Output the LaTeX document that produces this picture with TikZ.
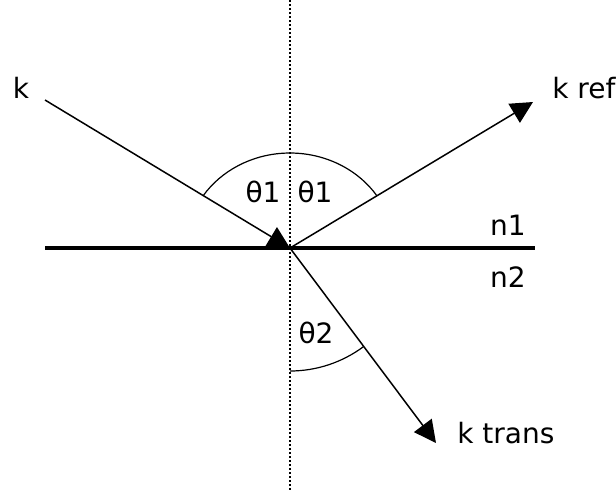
\documentclass[tikz,border=0pt]{standalone}
\usepackage{fontspec}
\setmainfont{DejaVu Sans}
\usepackage{tikz}
\usetikzlibrary{positioning, arrows.meta, calc}

\begin{document}
\begin{tikzpicture}[
  x=0.5pt, y=0.5pt,
  font=\fontsize{14pt}{16pt}\selectfont,
  ray/.style={line width=0.75pt, -{Triangle[length=11pt, width=11pt]}},
  surface/.style={line width=2pt},
  normal/.style={line width=0.75pt, dash pattern=on 0.9pt off 1.1pt},
  angarc/.style={line width=0.6pt},
  lbl/.style={inner sep=0pt}
]
\useasboundingbox (0,0) rectangle (616,495);
\coordinate (hit) at (290,247);
\coordinate (kin) at (45,395);
\coordinate (kref) at (533,393);
\coordinate (ktrans) at (436,52);
\coordinate (surfL) at (45,247);
\coordinate (surfR) at (535,247);
\coordinate (normT) at (290,495);
\coordinate (normB) at (290,5);
% interface and normal
\draw[normal] (normT)--(normB);
\draw[surface] (surfL)--(surfR);
% rays
\draw[ray] (kin)--(hit);
\draw[ray] (hit)--(kref);
\draw[ray] (hit)--(ktrans);
% angles
\draw[angarc] ([shift={(33.4:52pt and 47.5pt)}]hit) arc[start angle=33.4, end angle=146.6, x radius=52pt, y radius=47.5pt];
\draw[angarc] ([shift={(-90:61.5pt)}]hit) arc[start angle=-90, end angle=-53.2, radius=61.5pt];
% labels
\node[lbl] (lk) at (21,407) {k};
\node[lbl, anchor=west] (lkref) at (552,407) {k ref};
\node[lbl, anchor=west] (lktrans) at (457,62) {k trans};
\node[lbl] (th1a) at (263,303) {θ1};
\node[lbl] (th1b) at (315,303) {θ1};
\node[lbl] (th2) at (316,162) {θ2};
\node[lbl] (n1) at (508,270) {n1};
\node[lbl] (n2) at (508,218) {n2};
\end{tikzpicture}
\end{document}
